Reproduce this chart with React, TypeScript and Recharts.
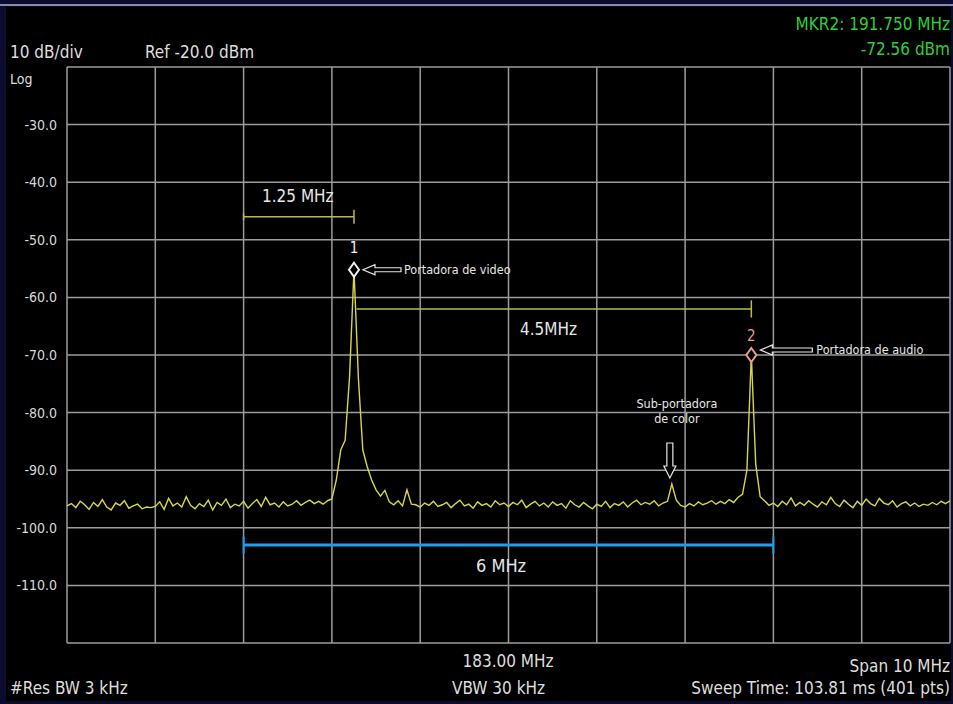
import React from 'react'
import { LineChart, Line, XAxis, YAxis, CartesianGrid, ReferenceLine, ReferenceDot } from 'recharts'

// sweep: 178 MHz .. 188 MHz, center 183 MHz, span 10 MHz
const startFreq = 178
const stepFreq = 0.05

const freqTicks = [178, 179, 180, 181, 182, 183, 184, 185, 186, 187, 188]
const powerTicks = [-120, -110, -100, -90, -80, -70, -60, -50, -40, -30, -20]

// trace in dBm
const tracePower = [
  -96.2, -95.8, -96.5, -95.4, -96.0, -96.8, -95.6, -96.3, -95.1, -96.4,
  -96.9, -95.7, -96.1, -95.3, -96.6, -96.2, -95.9, -96.7, -96.4, -96.5,
  -96.3, -95.5, -96.8, -94.9, -96.2, -95.7, -96.4, -94.6, -96.1, -96.7,
  -95.8, -96.3, -95.2, -96.9, -95.6, -96.1, -95.0, -96.5, -95.9, -96.2,
  -95.4, -96.6, -95.8, -95.1, -96.3, -94.7, -96.0, -95.7, -96.4, -95.5,
  -96.2, -95.9, -95.3, -96.1, -95.6, -95.2, -95.8, -95.4, -95.9, -95.3,
  -95.0, -91.7, -86.5, -84.8, -73.8, -55.2, -74.0, -86.5, -89.4, -91.7,
  -93.4, -94.5, -93.5, -95.5, -96.0, -95.3, -96.2, -93.4, -95.9, -96.0,
  -96.4, -95.7, -96.1, -95.4, -96.3, -96.0, -95.6, -96.5, -95.8, -95.2,
  -96.2, -95.9, -96.6, -95.5, -96.1, -95.8, -96.4, -95.3, -96.0, -95.7,
  -96.3, -95.6, -96.0, -95.2, -96.5, -95.9, -95.4, -96.2, -95.7, -96.4,
  -95.5, -96.1, -95.8, -96.6, -95.3, -96.0, -96.4, -95.6, -96.2, -96.7,
  -95.9, -96.3, -95.4, -96.5, -95.8, -96.1, -95.5, -96.4, -95.7, -95.2,
  -96.0, -95.6, -95.9, -95.3, -96.2, -95.7, -95.4, -92.4, -95.2, -96.1,
  -96.4, -95.8, -96.2, -95.5, -96.0, -95.7, -95.3, -95.9, -95.4, -95.8,
  -95.1, -95.6, -94.7, -94.2, -90.0, -70.0, -89.0, -94.6, -95.3, -96.1,
  -95.7, -96.3, -95.4, -96.0, -94.8, -96.2, -95.6, -96.1, -95.3, -95.9,
  -96.4, -95.5, -96.0, -94.7, -95.8, -96.3, -95.2, -95.9, -96.5, -95.4,
  -96.1, -95.0, -95.8, -96.2, -94.9, -95.7, -96.0, -95.3, -96.4, -95.8,
  -95.5, -96.2, -95.7, -96.3, -95.9, -96.1, -95.6, -96.0, -95.4, -95.8,
  -95.3,
]

// markers and spans
const videoCarrier = { f: 181.25, p: -55.2 }
const audioCarrier = { f: 185.75, p: -70.0 }
const colorSub = { f: 184.85, p: -92.4 }
const span125 = { from: 180, to: 181.25, p: -46 }
const span45 = { from: 181.28, to: 185.75, p: -62 }
const span6 = { from: 180, to: 186, p: -103 }

const data = tracePower.map((p, i) => ({ f: +(startFreq + i * stepFreq).toFixed(2), p }))

const COND = '"DejaVu Sans Condensed", "DejaVu Sans", sans-serif'
const BRACKET = '#b9bb4c'
const TXT = '#e6e6e6'

const LeftArrow = ({ x, y, len }: { x: number; y: number; len: number }) => (
  <path
    d={`M${x},${y} L${x + 12},${y - 5} L${x + 12},${y - 2} L${x + len},${y - 2} L${x + len},${y + 2} L${x + 12},${y + 2} L${x + 12},${y + 5} Z`}
    fill="#000"
    stroke="#e8e8e8"
    strokeWidth={1.2}
  />
)

const Diamond = ({ cx, cy, color }: { cx: number; cy: number; color: string }) => (
  <path
    d={`M${cx},${cy - 7} L${cx + 5},${cy} L${cx},${cy + 7} L${cx - 5},${cy} Z`}
    fill="#000"
    stroke={color}
    strokeWidth={2}
  />
)

const VideoMarker = (props: any) => {
  const { cx, cy } = props
  return (
    <g>
      <Diamond cx={cx} cy={cy} color="#f0f0f0" />
      <text x={cx} y={cy - 17} fill="#f0f0f0" fontSize={15} textAnchor="middle" fontFamily={COND}>1</text>
      <LeftArrow x={cx + 9} y={cy} len={38} />
      <text x={cx + 50} y={cy + 4} fill={TXT} fontSize={12.5} fontFamily={COND}>Portadora de video</text>
    </g>
  )
}

const AudioMarker = (props: any) => {
  const { cx, cy } = props
  return (
    <g>
      <Diamond cx={cx} cy={cy} color="#e89a9a" />
      <text x={cx} y={cy - 14} fill="#e89a9a" fontSize={15} textAnchor="middle" fontFamily={COND}>2</text>
      <LeftArrow x={cx + 9} y={cy - 5} len={52} />
      <text x={cx + 65} y={cy - 1} fill={TXT} fontSize={12.5} fontFamily={COND}>Portadora de audio</text>
    </g>
  )
}

const ColorMarker = (props: any) => {
  const { cx, cy } = props
  const x = cx - 2
  const top = cy - 41
  const tip = cy - 6
  return (
    <g>
      <text x={cx + 5} y={cy - 76} fill={TXT} fontSize={12.5} textAnchor="middle" fontFamily={COND}>Sub-portadora</text>
      <text x={cx + 5} y={cy - 61} fill={TXT} fontSize={12.5} textAnchor="middle" fontFamily={COND}>de color</text>
      <path
        d={`M${x - 3},${top} L${x + 3},${top} L${x + 3},${tip - 12} L${x + 6},${tip - 12} L${x},${tip} L${x - 6},${tip - 12} L${x - 3},${tip - 12} Z`}
        fill="#000"
        stroke="#e8e8e8"
        strokeWidth={1.2}
      />
    </g>
  )
}

const textStyle: React.CSSProperties = {
  position: 'absolute',
  fontFamily: COND,
  fontSize: 17,
  color: '#dedede',
  whiteSpace: 'nowrap',
  lineHeight: 1,
}

export default function App() {
  return (
    <div style={{ position: 'absolute', left: 0, top: 0, width: 953, height: 704, background: '#0b0b2e', overflow: 'hidden' }}>
      <div style={{ position: 'absolute', left: 0, top: 4, width: 953, height: 2, background: '#8a8aa8' }} />
      <div style={{ position: 'absolute', left: 6, top: 7, width: 945, height: 694, background: '#000' }} />

      <div style={{ position: 'absolute', left: 0, top: 0 }}>
        <LineChart width={953} height={704} data={data} margin={{ top: 67, right: 3, bottom: 61, left: 0 }}>
          <CartesianGrid stroke="#9c9c9c" strokeWidth={1.5} />
          <XAxis
            dataKey="f"
            type="number"
            domain={[178, 188]}
            ticks={freqTicks}
            tickFormatter={() => ''}
            axisLine={false}
            tickLine={false}
            height={0}
          />
          <YAxis
            type="number"
            domain={[-120, -20]}
            ticks={powerTicks}
            width={67}
            axisLine={false}
            tickLine={false}
            tickMargin={4}
            tick={{ fill: '#d8d8d8', fontSize: 14, fontFamily: COND }}
            tickFormatter={(v: number) => (v === -20 || v === -120 ? '' : v.toFixed(1))}
          />

          <ReferenceLine segment={[{ x: span125.from, y: span125.p }, { x: span125.to, y: span125.p }]} stroke={BRACKET} strokeWidth={1.5} />
          <ReferenceLine segment={[{ x: span125.from, y: span125.p + 0.6 }, { x: span125.from, y: span125.p - 0.6 }]} stroke={BRACKET} strokeWidth={1.5} />
          <ReferenceLine segment={[{ x: span125.to, y: span125.p + 1.2 }, { x: span125.to, y: span125.p - 1.2 }]} stroke={BRACKET} strokeWidth={1.5} />
          <ReferenceLine segment={[{ x: span45.from, y: span45.p }, { x: span45.to, y: span45.p }]} stroke={BRACKET} strokeWidth={1.5} />
          <ReferenceLine segment={[{ x: span45.to, y: span45.p + 1.5 }, { x: span45.to, y: span45.p - 1.5 }]} stroke={BRACKET} strokeWidth={1.5} />

          <ReferenceLine segment={[{ x: span6.from, y: span6.p }, { x: span6.to, y: span6.p }]} stroke="#1e9fe6" strokeWidth={3} />
          <ReferenceLine segment={[{ x: span6.from, y: span6.p + 1.5 }, { x: span6.from, y: span6.p - 1.5 }]} stroke="#1e9fe6" strokeWidth={2} />
          <ReferenceLine segment={[{ x: span6.to, y: span6.p + 1.5 }, { x: span6.to, y: span6.p - 1.5 }]} stroke="#1e9fe6" strokeWidth={2} />

          <Line type="linear" dataKey="p" stroke="#d6d64c" strokeWidth={1.4} dot={false} isAnimationActive={false} />

          <ReferenceDot x={videoCarrier.f} y={videoCarrier.p} shape={VideoMarker} />
          <ReferenceDot x={audioCarrier.f} y={audioCarrier.p} shape={AudioMarker} />
          <ReferenceDot x={colorSub.f} y={colorSub.p} shape={ColorMarker} />
        </LineChart>
      </div>

      <div style={{ ...textStyle, left: 10, top: 44 }}>10 dB/div</div>
      <div style={{ ...textStyle, left: 145, top: 44 }}>Ref -20.0 dBm</div>
      <div style={{ ...textStyle, left: 10, top: 72, fontSize: 14 }}>Log</div>
      <div style={{ ...textStyle, right: 3, top: 16, color: '#2fcf3a' }}>MKR2: 191.750 MHz</div>
      <div style={{ ...textStyle, right: 3, top: 41, color: '#2fcf3a' }}>-72.56 dBm</div>

      <div style={{ ...textStyle, left: 262, top: 188, color: TXT }}>1.25 MHz</div>
      <div style={{ ...textStyle, left: 520, top: 321, color: TXT }}>4.5MHz</div>
      <div style={{ ...textStyle, left: 476, top: 557, fontSize: 18, color: TXT }}>6 MHz</div>

      <div style={{ ...textStyle, left: 508, top: 653, transform: 'translateX(-50%)' }}>183.00 MHz</div>
      <div style={{ ...textStyle, right: 3, top: 658 }}>Span 10 MHz</div>
      <div style={{ ...textStyle, left: 10, top: 680 }}>#Res BW 3 kHz</div>
      <div style={{ ...textStyle, left: 452, top: 680 }}>VBW 30 kHz</div>
      <div style={{ ...textStyle, right: 3, top: 680 }}>Sweep Time: 103.81 ms (401 pts)</div>
    </div>
  )
}
